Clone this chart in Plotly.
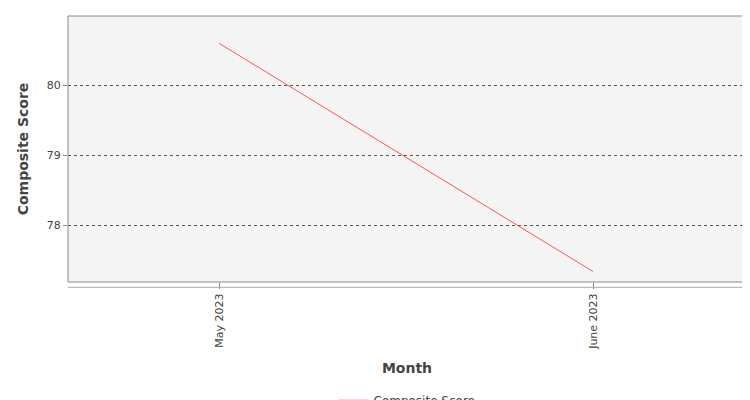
import plotly.graph_objects as go

months = ["May 2023", "June 2023"]
scores = [80.6, 77.34]

fig = go.Figure()
fig.add_trace(go.Scatter(x=months, y=scores, mode="lines", name="Composite Score",
                         line=dict(color="#ff5555", width=1)))

fig.update_layout(
    width=750, height=400,
    margin=dict(l=60, r=12, t=8, b=126, autoexpand=False),
    paper_bgcolor="white", plot_bgcolor="#f4f4f4",
    font=dict(family="DejaVu Sans", size=11, color="#444"),
    showlegend=True,
    legend=dict(orientation="h", x=0.5, xanchor="center", y=-0.39, yanchor="top",
                font=dict(size=12)),
    xaxis=dict(title=dict(text="<b>Month</b>", font=dict(size=14), standoff=14),
               type="category", automargin=False,
               range=[-0.404, 1.409], tickangle=-90, showgrid=False,
               ticks="outside", ticklen=6, tickcolor="#888", zeroline=False),
    yaxis=dict(title=dict(text="<b>Composite Score</b>", font=dict(size=14), standoff=14),
               automargin=False,
               range=[77.19, 80.99], dtick=1, gridcolor="#555", griddash="dot",
               ticks="outside", ticklen=4, tickcolor="#888", zeroline=False),
    shapes=[dict(type="rect", xref="paper", yref="paper", x0=0, x1=1, y0=0, y1=1,
                 line=dict(color="#888", width=1)),
            dict(type="line", xref="paper", yref="paper", x0=0, x1=1, y0=-0.02, y1=-0.02,
                 line=dict(color="#aaa", width=1))],
)

fig.write_html("out.html")
